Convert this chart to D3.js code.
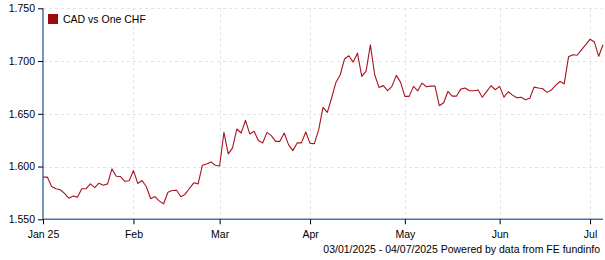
<!DOCTYPE html>
<html>
<head>
<meta charset="utf-8">
<script src="https://cdn.jsdelivr.net/npm/d3@7"></script>
<style>
  body { margin: 0; background: #fff; }
  svg text { font-family: Arial, "Liberation Sans", sans-serif; font-size: 10.5px; fill: #000; }
</style>
</head>
<body>
<div id="chart"></div>
<script>
// Daily closes (trading days), one array per month
const jan = [1.590, 1.590, 1.581, 1.579, 1.578, 1.5745, 1.570, 1.572, 1.571, 1.579, 1.579,
             1.5836, 1.580, 1.5842, 1.5823, 1.5836, 1.5978, 1.5908, 1.5905, 1.586, 1.5865];
const feb = [1.5962, 1.584, 1.5868, 1.5808, 1.5695, 1.5716, 1.5672, 1.5647, 1.5757, 1.5773,
             1.5776, 1.5714, 1.5738, 1.5792, 1.5846, 1.5836, 1.6012, 1.6025, 1.6044, 1.6012];
const mar = [1.6005, 1.6324, 1.612, 1.6177, 1.6356, 1.6318, 1.6438, 1.6309, 1.6334, 1.6246,
             1.6224, 1.6324, 1.6293, 1.6239, 1.6239, 1.6318, 1.6208, 1.6151, 1.6224, 1.6224, 1.6328];
const apr = [1.622, 1.6217, 1.635, 1.656, 1.6513, 1.665, 1.6797, 1.687, 1.702, 1.705, 1.699,
             1.7075, 1.6854, 1.6905, 1.7153, 1.687, 1.675, 1.6767, 1.672, 1.676, 1.6864, 1.680];
const may = [1.6665, 1.6665, 1.676, 1.6718, 1.6791, 1.6756, 1.6762, 1.6762, 1.6577, 1.6605,
             1.6712, 1.6668, 1.6668, 1.6734, 1.6744, 1.6718, 1.6718, 1.6725, 1.6657, 1.6712, 1.6766, 1.6728];
const jun = [1.676, 1.6658, 1.6709, 1.6677, 1.6652, 1.6656, 1.6633, 1.6648, 1.6753, 1.6744,
             1.6737, 1.6703, 1.6725, 1.677, 1.6806, 1.6784, 1.704, 1.7059, 1.7055, 1.7106, 1.7155];
const jul = [1.7207, 1.718, 1.7045, 1.7155];

const months = [jan, feb, mar, apr, may, jun, jul];
const monthLabels = ['Jan 25', 'Feb', 'Mar', 'Apr', 'May', 'Jun', 'Jul'];
const yTicks = [1.55, 1.60, 1.65, 1.70, 1.75];

const seriesName = 'CAD vs One CHF';
const footnote = '03/01/2025 - 04/07/2025 Powered by data from FE fundinfo';

// flatten, keeping the index of each month's first day for the x ticks
const values = [].concat(...months);
const monthStarts = [];
let n = 0;
months.forEach(m => { monthStarts.push(n); n += m.length; });

const width = 605, height = 260;
const plot = {left: 43, right: 603, top: 8.3, bottom: 219.3};

const svg = d3.select('#chart')
  .append('svg')
    .attr('width', width)
    .attr('height', height);

const x = d3.scaleLinear()
  .domain([0, values.length - 1])
  .range([plot.left, plot.right]);

const y = d3.scaleLinear()
  .domain([1.55, 1.75])
  .range([plot.bottom, plot.top]);

// dashed grid
svg.append('g')
  .selectAll('line')
  .data(yTicks.slice(1))
  .join('line')
    .attr('x1', plot.left).attr('x2', plot.right)
    .attr('y1', d => Math.round(y(d)) + 0.5)
    .attr('y2', d => Math.round(y(d)) + 0.5)
    .attr('stroke', '#e3e3e3')
    .attr('stroke-dasharray', '3,3');

svg.append('g')
  .selectAll('line')
  .data(monthStarts.slice(1))
  .join('line')
    .attr('x1', d => Math.round(x(d)) + 0.5)
    .attr('x2', d => Math.round(x(d)) + 0.5)
    .attr('y1', plot.top).attr('y2', plot.bottom)
    .attr('stroke', '#e3e3e3')
    .attr('stroke-dasharray', '3,3');

// Y axis
const yAxis = svg.append('g')
  .attr('transform', `translate(${plot.left},0)`)
  .call(d3.axisLeft(y).tickValues(yTicks).tickFormat(d3.format('.3f')).tickSize(5).tickPadding(3));
yAxis.select('.domain').attr('stroke', '#4a72a6').attr('stroke-width', 1.5).attr('d', `M0,${plot.top}V${plot.bottom}`);
yAxis.selectAll('.tick line').attr('stroke', '#000');
yAxis.selectAll('text').style('font-size', '10.5px').attr('font-family', null);

// X axis
const xAxis = svg.append('g')
  .attr('transform', `translate(0,${plot.bottom})`)
  .call(d3.axisBottom(x).tickValues(monthStarts).tickFormat((d, i) => monthLabels[i]).tickSize(5).tickPadding(6));
xAxis.select('.domain').attr('stroke', '#4a72a6').attr('stroke-width', 1.5).attr('d', `M${plot.left},0H${plot.right}`);
xAxis.selectAll('.tick line').attr('stroke', '#000');
xAxis.selectAll('text').style('font-size', '10.5px').attr('font-family', null);

// the line
svg.append('path')
  .datum(values)
  .attr('fill', 'none')
  .attr('stroke', '#a8141e')
  .attr('stroke-width', 1.1)
  .attr('stroke-linejoin', 'round')
  .attr('d', d3.line()
    .x((d, i) => x(i))
    .y(d => y(d))
  );

// legend
svg.append('rect')
  .attr('x', 48).attr('y', 14)
  .attr('width', 10).attr('height', 10)
  .attr('fill', '#9b0b0b');
svg.append('text')
  .attr('x', 63).attr('y', 23)
  .text(seriesName);

// footnote
svg.append('text')
  .attr('x', 600).attr('y', 253)
  .attr('text-anchor', 'end')
  .text(footnote);
</script>
</body>
</html>
